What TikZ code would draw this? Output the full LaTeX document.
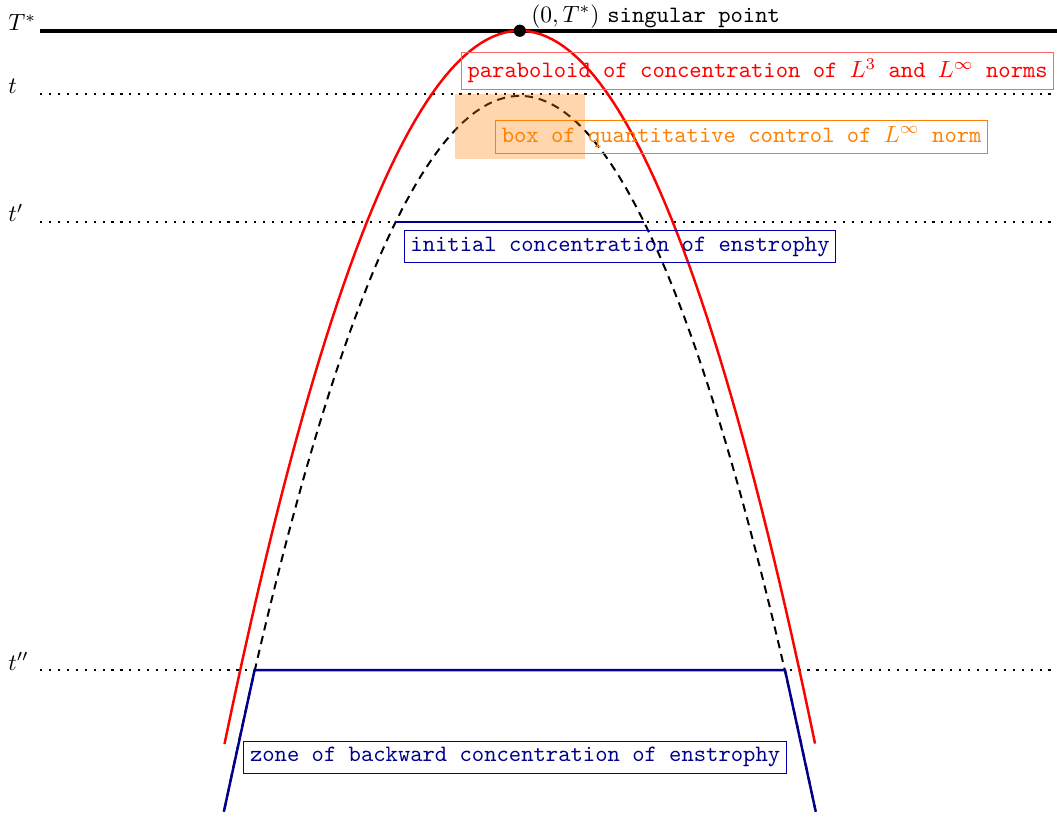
\documentclass[tikz,border=0pt]{standalone}
\begin{document}
\begin{tikzpicture}[
    punteado/.style={line width=0.9pt, dash pattern=on 0.9pt off 2.9pt},
    etiqueta/.style={draw, font=\ttfamily, inner sep=2.6pt},
    zona/.style={blue!55!black, line width=1.05pt},
  ]
    \useasboundingbox (-7.78,-11.80) rectangle (8.04,0.46);

    % Tiempo singular T^*
    \draw[line width=1.7pt] (-7.18,0) -- (8.04,0);
    \node[anchor=base west] (lblT) at (-7.78,0) {$T^*$};

    % Tiempos t, t', t''
    \foreach \y/\etq/\n in {-0.943/t/1, -2.86/{t'}/2, -9.57/{t''}/3} {
        \draw[punteado] (-7.18,\y) -- (8.04,\y);
        \node[anchor=base west] (lbl\n) at (-7.78,\y) {$\etq$};
    }

    % Paraboloide de concentracion (rojo)
    \draw[red, line width=1.05pt, domain=-4.42:4.42, samples=100]
        plot ({\x}, {-\x*\x/1.83});

    % Paraboloide desplazado (discontinuo)
    \draw[line width=0.85pt, dash pattern=on 3.5pt off 2.5pt, domain=-4.42:4.42, samples=100]
        plot ({\x}, {-0.975-\x*\x/1.83});

    % Caja de control cuantitativo
    \fill[orange, opacity=0.32] (-0.97,-0.943) rectangle (0.97,-1.92);

    % Concentracion inicial y zona hacia atras
    \draw[zona] (-1.86,-2.86) -- (1.86,-2.86);
    \draw[zona] (-4.43,-11.69) -- (-3.97,-9.57) -- (3.97,-9.57) -- (4.43,-11.69);

    % Punto singular
    \node[circle, fill, inner sep=0pt, minimum size=5.2pt] (sing) at (0,0) {};
    \node[anchor=south west, inner sep=1pt] (singlbl) at (0.13,0)
        {$(0,T^*)$ \texttt{singular point}};

    % Etiquetas
    \node[etiqueta, red, draw=red!60] (parab) at (3.56,-0.60)
        {paraboloid of concentration of $L^3$ and $L^\infty$ norms};
    \node[etiqueta, orange] (caja) at (3.32,-1.59)
        {box of quantitative control of $L^\infty$ norm};
    \node[etiqueta, blue!55!black, draw=blue!70!black] (inicial) at (1.50,-3.23)
        {initial concentration of enstrophy};
    \node[etiqueta, blue!55!black, draw=blue!70!black] (atras) at (-0.07,-10.87)
        {zone of backward concentration of enstrophy};
\end{tikzpicture}
\end{document}
